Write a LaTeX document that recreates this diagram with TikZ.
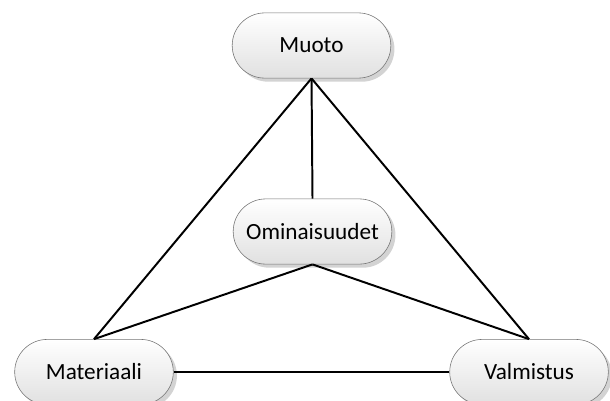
\documentclass[tikz,border=0pt]{standalone}
\usepackage{fontspec}
\setmainfont{Carlito}
\usetikzlibrary{shapes.misc,shadows}

\begin{document}
\begin{tikzpicture}[x=0.25mm,y=-0.25mm,
  every node/.style={rounded rectangle,draw=black!55,thin,
    top color=white,bottom color=black!12,
    drop shadow={shadow xshift=0.9mm,shadow yshift=-0.9mm,opacity=0.35},
    minimum width=42mm,minimum height=16.3mm,
    font=\fontsize{16.5}{19}\selectfont}]
\useasboundingbox (0,0) rectangle (610,400);
\node (muoto) at (311.5,45.5) {Muoto};
\node (ominaisuudet) at (312.5,231.5) {Ominaisuudet};
\node (materiaali) at (94,372) {Materiaali};
\node (valmistus) at (529,372) {Valmistus};
\draw[line width=1.4pt] (muoto.south) -- (materiaali.north);
\draw[line width=1.4pt] (muoto.south) -- (valmistus.north);
\draw[line width=1.4pt] (muoto.south) -- (ominaisuudet.north);

\draw[line width=1.4pt] (ominaisuudet.south) -- (materiaali.north);
\draw[line width=1.4pt] (ominaisuudet.south) -- (valmistus.north);
\draw[line width=1.4pt] (materiaali.east) -- (valmistus.west);
\end{tikzpicture}
\end{document}
